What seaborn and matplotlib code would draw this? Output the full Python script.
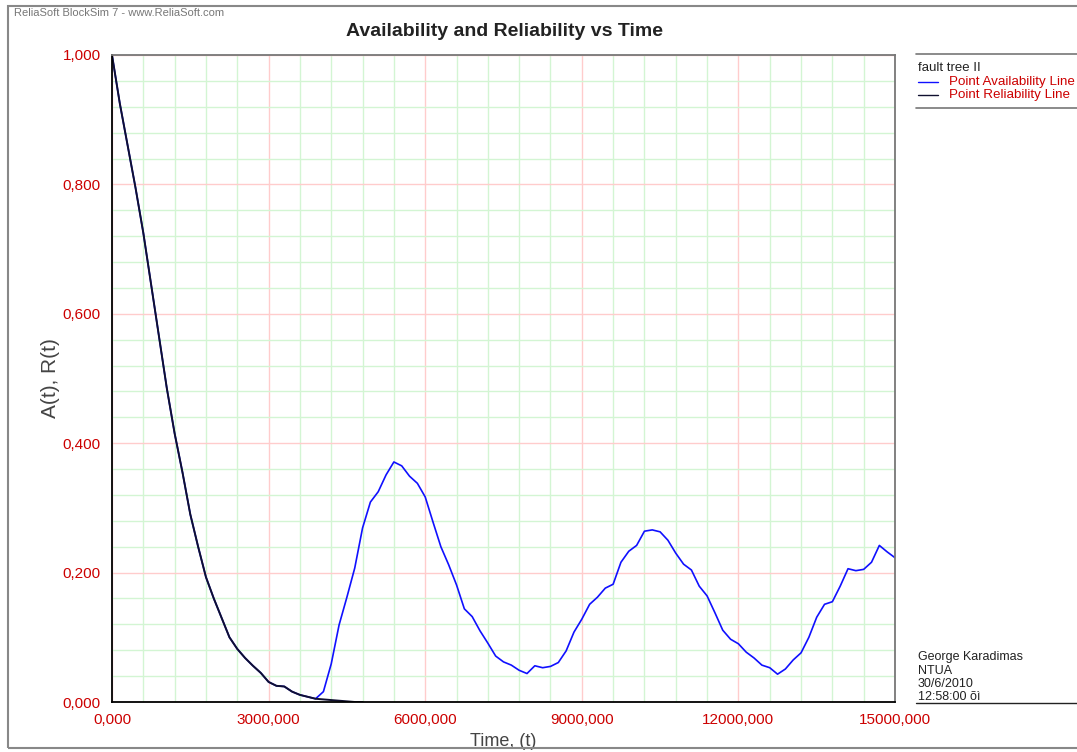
import numpy as np
import pandas as pd
import matplotlib.pyplot as plt
import seaborn as sns
from matplotlib.patches import Rectangle
from matplotlib.lines import Line2D

# time samples (hours), every 150 000
time = np.arange(0, 15_000_001, 150_000)

# point availability A(t)
availability = [
    1.000, 0.925, 0.860, 0.795, 0.725, 0.645, 0.565, 0.485, 0.415, 0.355,
    0.290, 0.240, 0.193, 0.160, 0.130, 0.100, 0.082, 0.068, 0.056, 0.045,
    0.031, 0.025, 0.024, 0.016, 0.011, 0.008, 0.005, 0.016, 0.059, 0.119,
    0.162, 0.207, 0.269, 0.309, 0.325, 0.351, 0.371, 0.365, 0.349, 0.338,
    0.317, 0.278, 0.240, 0.212, 0.181, 0.144, 0.132, 0.110, 0.091, 0.071,
    0.062, 0.057, 0.049, 0.044, 0.056, 0.053, 0.055, 0.061, 0.079, 0.108,
    0.128, 0.151, 0.162, 0.176, 0.182, 0.216, 0.233, 0.242, 0.264, 0.266,
    0.263, 0.250, 0.230, 0.213, 0.204, 0.179, 0.164, 0.138, 0.111, 0.097,
    0.090, 0.077, 0.068, 0.057, 0.053, 0.043, 0.051, 0.065, 0.076, 0.100,
    0.131, 0.151, 0.155, 0.179, 0.206, 0.203, 0.205, 0.216, 0.242, 0.232,
    0.223,
]

# point reliability R(t), goes to zero after ~4.6M
reliability = [
    1.000, 0.925, 0.860, 0.795, 0.725, 0.645, 0.565, 0.485, 0.415, 0.355,
    0.290, 0.240, 0.193, 0.160, 0.130, 0.100, 0.082, 0.068, 0.056, 0.045,
    0.031, 0.025, 0.024, 0.016, 0.011, 0.008, 0.005, 0.004, 0.003, 0.002,
    0.001, 0.000, 0.000,
]

x_ticks = [0, 3_000_000, 6_000_000, 9_000_000, 12_000_000, 15_000_000]
x_labels = ["0,000", "3000,000", "6000,000", "9000,000", "12000,000", "15000,000"]
y_ticks = [0.0, 0.2, 0.4, 0.6, 0.8, 1.0]
y_labels = ["0,000", "0,200", "0,400", "0,600", "0,800", "1,000"]

df_a = pd.DataFrame({"t": time, "v": availability})
df_r = pd.DataFrame({"t": time[:len(reliability)], "v": reliability})

sns.set_style("white")
plt.rcParams['font.family'] = ['Liberation Sans', 'DejaVu Sans']

RED = "#cc0000"
fig = plt.figure(figsize=(10.77, 7.52), dpi=100)
ax = fig.add_axes([112 / 1077, 1 - 702 / 752, (895 - 112) / 1077, (702 - 55) / 752])

sns.lineplot(data=df_a, x="t", y="v", color="#1010ff", lw=1.2, ax=ax)
sns.lineplot(data=df_r, x="t", y="v", color="#101030", lw=1.4, ax=ax)

ax.set_xlim(0, 15_000_000)
ax.set_ylim(0, 1.0)

# grid: green minors, red majors
ax.set_xticks(np.arange(0, 15_000_001, 600_000), minor=True)
ax.set_yticks(np.arange(0, 1.0001, 0.04), minor=True)
ax.set_xticks(x_ticks)
ax.set_yticks(y_ticks)
ax.set_xticklabels(x_labels)
ax.set_yticklabels(y_labels)
ax.grid(which="minor", color="#d3f5d3", lw=1)
ax.grid(which="major", color="#ffcccc", lw=1)
ax.set_axisbelow(True)

ax.tick_params(which="major", direction="out", length=6, width=1, colors="#ffb0b0",
               labelcolor=RED, labelsize=11, pad=2)
ax.tick_params(which="minor", length=0)

for s in ["left", "bottom"]:
    ax.spines[s].set_color("black")
    ax.spines[s].set_linewidth(1.3)
for s in ["top", "right"]:
    ax.spines[s].set_color("#777777")
    ax.spines[s].set_linewidth(1.3)

ax.set_xlabel("Time, (t)", fontsize=13, color="#444444", labelpad=4)
ax.set_ylabel("A(t), R(t)", fontsize=15, color="#444444", labelpad=2)

fig.text(505 / 1077, 1 - 31 / 752, "Availability and Reliability vs Time",
         ha="center", va="center", fontsize=14, fontweight="bold", color="#222222")
fig.text(14 / 1077, 1 - 13 / 752, "ReliaSoft BlockSim 7 - www.ReliaSoft.com",
         ha="left", va="center", fontsize=8, color="#777777")

# outer frame
fig.patches.append(Rectangle((8 / 1077, 1 - 748 / 752), 1.2, (748 - 6) / 752,
                             transform=fig.transFigure, fill=False,
                             edgecolor="#888888", lw=1.5))

# legend block at right
fig.add_artist(Line2D([916 / 1077, 1], [1 - 54 / 752] * 2, color="#777777", lw=1.2))
fig.add_artist(Line2D([916 / 1077, 1], [1 - 108 / 752] * 2, color="#777777", lw=1.2))
fig.text(918 / 1077, 1 - 68 / 752, "fault tree II", fontsize=9.5, color="#222222", va="center")
fig.add_artist(Line2D([918 / 1077, 938 / 1077], [1 - 82 / 752] * 2, color="#1010ff", lw=1))
fig.add_artist(Line2D([918 / 1077, 938 / 1077], [1 - 95 / 752] * 2, color="#101030", lw=1))
fig.text(949 / 1077, 1 - 82 / 752, "Point Availability Line", fontsize=9.6, color=RED, va="center")
fig.text(949 / 1077, 1 - 95 / 752, "Point Reliability Line", fontsize=9.6, color=RED, va="center")

# author block
for i, s in enumerate(["George Karadimas", "NTUA", "30/6/2010", "12:58:00 õì"]):
    fig.text(918 / 1077, 1 - (657 + 13.5 * i) / 752, s, fontsize=9,
             color="#222222", va="center")
fig.add_artist(Line2D([916 / 1077, 1], [1 - 703 / 752] * 2, color="#222222", lw=1))

fig.savefig("out.png", dpi=100)
plt.close(fig)
